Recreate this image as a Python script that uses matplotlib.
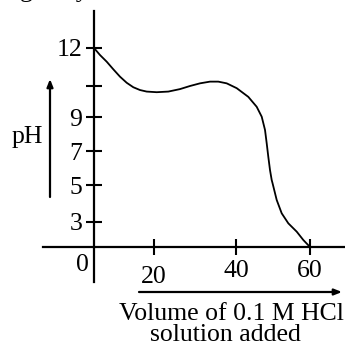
import numpy as np
import matplotlib
matplotlib.use("Agg")
import matplotlib.pyplot as plt
from matplotlib.transforms import ScaledTranslation

# ---------------- data ----------------
volume = [0, 2.0, 4.23, 6.43, 8.67, 10.9, 13.1, 15.33, 17.57, 20.66, 23.49,
          26.34, 28.78, 31.22, 33.66, 35.68, 37.73, 40.19, 43.32, 45.59,
          46.95, 47.84, 48.3, 48.73, 49.19, 49.65, 49.86, 51.0, 52.35, 54.14,
          56.41, 58.19, 60]
ph = [12.0, 11.63, 11.28, 10.88, 10.49, 10.17, 9.96, 9.87, 9.82, 9.80, 9.82,
      9.90, 10.0, 10.14, 10.23, 10.23, 10.14, 9.93, 9.65, 9.33,
      9.01, 8.24, 7.45, 6.66, 5.88, 5.29, 5.12, 4.19, 3.47, 2.84,
      1.84, 0.84, 0.0]

x_ticks = [20, 40, 60]
x_tick_labels = ["20", "40", "60"]
y_ticks = [3, 5, 7, 9, 10, 12]
y_tick_labels = ["3", "5", "7", "9", "", "12"]

# ---------------- non-linear axis scales of the sketch ----------------
X_KNOT_VAL = [0, 20, 40, 60]
X_KNOT_PX = [0, 60, 142, 216]
Y_KNOT_VAL = [0, 3, 5, 7, 9, 10, 12]
Y_KNOT_PX = [0, 25, 62, 96, 130, 161, 199]


def make_map(xp, fp):
    xp = np.asarray(xp, float)
    fp = np.asarray(fp, float)

    def f(v):
        v = np.asarray(v, float)
        shape = v.shape
        v = np.atleast_1d(v)
        out = np.interp(v, xp, fp)
        lo = v < xp[0]
        hi = v > xp[-1]
        out[lo] = fp[0] + (v[lo] - xp[0]) * (fp[1] - fp[0]) / (xp[1] - xp[0])
        out[hi] = fp[-1] + (v[hi] - xp[-1]) * (fp[-1] - fp[-2]) / (xp[-1] - xp[-2])
        return out.reshape(shape)
    return f


fx, ix = make_map(X_KNOT_VAL, X_KNOT_PX), make_map(X_KNOT_PX, X_KNOT_VAL)
fy, iy = make_map(Y_KNOT_VAL, Y_KNOT_PX), make_map(Y_KNOT_PX, Y_KNOT_VAL)

plt.rcParams["font.family"] = ["Liberation Serif", "DejaVu Serif"]
FS = 18.5

fig = plt.figure(figsize=(3.45, 3.51), dpi=100)
ax = fig.add_axes([0, 0, 1, 1])
ax.set_xscale("function", functions=(fx, ix))
ax.set_yscale("function", functions=(fy, iy))

# origin at pixel (94, 247) in a 345x351 picture
ax.set_xlim(float(ix(-94)), float(ix(251)))
ax.set_ylim(float(iy(-104)), float(iy(247)))
ax.patch.set_alpha(0)

ax.plot(volume, ph, color="black", lw=1.3, solid_capstyle="round",
        solid_joinstyle="round")

for s in ["top", "right"]:
    ax.spines[s].set_visible(False)
ax.spines["left"].set_position(("data", 0))
ax.spines["bottom"].set_position(("data", 0))
ax.spines["left"].set_bounds(float(iy(-35)), float(iy(236)))
ax.spines["bottom"].set_bounds(float(ix(-51)), float(ix(251)))
ax.spines["left"].set_linewidth(1.6)
ax.spines["bottom"].set_linewidth(1.6)

ax.set_xticks(x_ticks)
ax.set_xticklabels(x_tick_labels)
ax.set_yticks(y_ticks)
ax.set_yticklabels(y_tick_labels)
ax.minorticks_off()
ax.tick_params(axis="both", direction="inout", length=11, width=1.5,
               labelsize=FS, colors="black")
ax.tick_params(axis="y", pad=3)
ax.tick_params(axis="x", pad=4)
# the "20" sits a little lower in the sketch
lab20 = ax.get_xticklabels()[0]
lab20.set_transform(lab20.get_transform() +
                    ScaledTranslation(0, -6 / 100, fig.dpi_scale_trans))

ax.text(-3.7, float(iy(-18)), "0", fontsize=FS, ha="center", va="center")

# arrows
ax.annotate("", xy=(50, 272), xytext=(50, 154), xycoords="figure pixels",
            textcoords="figure pixels",
            arrowprops=dict(arrowstyle="-|>,head_length=0.45,head_width=0.18",
                            lw=1.6, color="black", shrinkA=0, shrinkB=0))
ax.annotate("", xy=(342, 59), xytext=(139, 59), xycoords="figure pixels",
            textcoords="figure pixels",
            arrowprops=dict(arrowstyle="-|>,head_length=0.45,head_width=0.18",
                            lw=1.6, color="black", shrinkA=0, shrinkB=0))

fig.text(27 / 345, 1 - 137 / 351, "pH", fontsize=FS, ha="center", va="center")
fig.text(231 / 345, 1 - 314 / 351, "Volume of 0.1 M HCl", fontsize=FS,
         ha="center", va="center")
fig.text(225 / 345, 1 - 335 / 351, "solution added", fontsize=FS,
         ha="center", va="center")
# clipped caption text at the very top
fig.text(20 / 345, 1 + 2.5 / 351, "g is by", fontsize=FS, ha="left",
         va="baseline")

fig.savefig("out.png", dpi=100)
